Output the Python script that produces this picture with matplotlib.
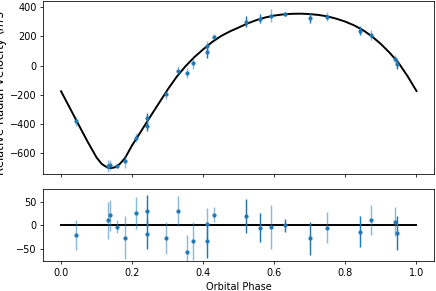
import numpy as np
import matplotlib
matplotlib.use('Agg')
import matplotlib.pyplot as plt

# best-fit orbit
model_phase = [0.0, 0.025, 0.05, 0.075, 0.1, 0.115, 0.13, 0.14, 0.15, 0.165, 0.18,
               0.2, 0.225, 0.25, 0.275, 0.3, 0.325, 0.35, 0.375, 0.4, 0.425, 0.45,
               0.475, 0.5, 0.525, 0.55, 0.575, 0.6, 0.625, 0.65, 0.675, 0.7, 0.725,
               0.75, 0.775, 0.8, 0.825, 0.85, 0.875, 0.9, 0.925, 0.95, 0.975, 1.0]
model_rv = [-177, -293, -410, -525, -633, -678, -701, -705, -701, -678, -636,
            -548, -452, -355, -260, -165, -78, -5, 58, 112, 162, 203,
            235, 262, 290, 313, 331, 344, 352, 356, 357, 354, 348,
            338, 322, 302, 276, 243, 200, 148, 87, 17, -73, -175]

# observations
phase = [0.041, 0.133, 0.138, 0.158, 0.181, 0.210, 0.241, 0.241, 0.296, 0.330,
         0.355, 0.372, 0.410, 0.410, 0.430, 0.519, 0.561, 0.591, 0.631, 0.700,
         0.747, 0.841, 0.872, 0.940, 0.946]
rv = [-383, -691, -684, -693, -658, -495, -360, -417, -199, -34,
      -50, 16, 137, 92, 199, 303, 321, 344, 355, 328,
      337, 241, 211, 46, 12]
resid = [-20, 11, 21, -3, -26, 26, 31, -19, -26, 31,
         -56, -33, 2, -33, 23, 20, -5, -3, 0, -27,
         -5, -13, 11, 8, -16]
err = [32, 39, 32, 14, 45, 34, 33, 30, 34, 32,
       35, 41, 35, 37, 15, 36, 31, 46, 13, 35,
       33, 32, 32, 30, 36]
# 1 = first instrument (solid bars), 0 = second (faded bars)
inst = [0, 0, 0, 0, 0, 0, 1, 1, 0, 0,
        0, 0, 0, 1, 0, 1, 1, 0, 1, 1,
        0, 1, 0, 0, 1]

phase = np.array(phase)
rv = np.array(rv)
resid = np.array(resid)
err = np.array(err)
inst = np.array(inst)

fig = plt.figure(figsize=(436 / 70, 291 / 70), dpi=70)
ax1 = fig.add_axes([0.0993, 0.402, 0.8967, 0.596])
ax2 = fig.add_axes([0.0993, 0.102, 0.8967, 0.247])

for ax, y in ((ax1, rv), (ax2, resid)):
    for k, a in ((0, 0.5), (1, 1.0)):
        m = inst == k
        ax.errorbar(phase[m], y[m], yerr=err[m], fmt='none', ecolor='C0',
                    elinewidth=1.5, alpha=a, zorder=2)
        ax.plot(phase[m], y[m], 'o', color='C0', ms=3.3, zorder=3)

ax1.plot(model_phase, model_rv, color='k', lw=2, zorder=1)
ax2.plot([0, 1], [0, 0], color='k', lw=2, zorder=1)

ax1.set_xlim(-0.05, 1.05)
ax2.set_xlim(-0.05, 1.05)
ax1.set_ylim(-746, 447)
ax2.set_ylim(-76, 76)
ax1.set_yticks([-600, -400, -200, 0, 200, 400])
ax2.set_yticks([-50, 0, 50])
ax1.set_xticks([0.0, 0.2, 0.4, 0.6, 0.8, 1.0])
ax1.set_xticklabels([])
ax2.set_xticks([0.0, 0.2, 0.4, 0.6, 0.8, 1.0])

ax1.set_ylabel(r'Relative Radial Velocity ($m\,s^{-1}$)', fontsize=12)
ax1.yaxis.set_label_coords(-0.083, 0.52)
ax2.set_xlabel('Orbital Phase')

fig.savefig('out.png', dpi=70)
